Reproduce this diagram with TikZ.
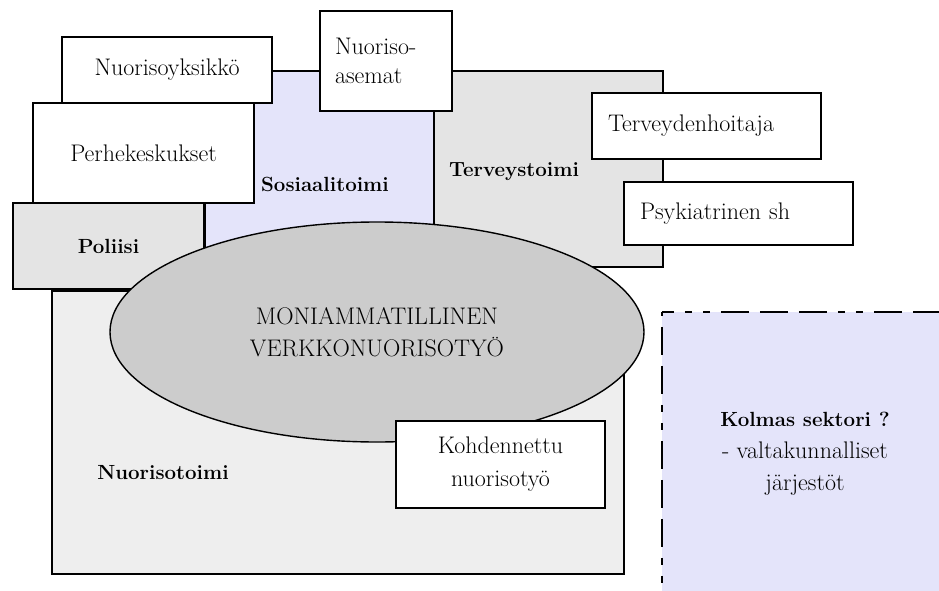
\documentclass[tikz,border=0pt]{standalone}
\usepackage{fontspec}
\usetikzlibrary{shapes.geometric}
\definecolor{lav}{HTML}{E4E4FA}
\definecolor{grayA}{HTML}{E4E4E4}
\definecolor{grayB}{HTML}{EEEEEE}
\definecolor{ellgray}{HTML}{CCCCCC}
\begin{document}
\begin{tikzpicture}[x=1pt,y=-1pt,
  box/.style={draw, line width=1.4pt, inner sep=0pt, font=\fontsize{24}{32}\selectfont, align=center},
  whitebox/.style={box, fill=white},
  lbl/.style={inner sep=0pt, font=\bfseries\fontsize{20.5}{30}\selectfont},
  kdash/.style={line width=2pt, dash pattern=on 7pt off 11pt on 7pt off 11pt on 28pt off 11pt on 28pt off 11pt on 28pt off 11pt}]
\useasboundingbox (0,0) rectangle (939,591);
% large regions
\node[box, fill=lav, minimum width=229pt, minimum height=214pt] (sos) at (319.5,178) {};
\node[box, fill=grayB, minimum width=572pt, minimum height=283pt] (nuor) at (338,432.5) {};
\node[box, fill=grayA, minimum width=229pt, minimum height=196pt] (terv) at (548.5,169) {};
\node[box, fill=grayA, minimum width=191pt, minimum height=86pt, font=\bfseries\fontsize{20.5}{30}\selectfont] (pol) at (108.5,246) {Poliisi};
% labels of regions
\node[lbl] (soslbl) at (325,184) {Sosiaalitoimi};
\node[lbl] (tervlbl) at (514,172) {Terveystoimi};
\node[lbl] (nuorlbl) at (163,473) {Nuorisotoimi};
% white boxes
\node[whitebox, minimum width=221pt, minimum height=100pt] (perhe) at (143.5,153) {Perhekeskukset};
\node[whitebox, minimum width=210pt, minimum height=66pt] (yks) at (167,70) {Nuorisoyksikkö};
\node[whitebox, minimum width=132pt, minimum height=100pt, text width=102pt, inner xsep=15pt, align=left, font=\fontsize{24}{29}\selectfont] (asemat) at (386,61) {Nuoriso-\\asemat};
\node[whitebox, minimum width=229pt, minimum height=66pt, text width=197pt, inner xsep=16pt, align=left] (hoit) at (706.5,126) {Terveydenhoitaja};
\node[whitebox, minimum width=229pt, minimum height=63pt, text width=197pt, inner xsep=16pt, align=left] (psyk) at (738.5,213.5) {Psykiatrinen sh};
% ellipse
\node[box, ellipse, fill=ellgray, minimum width=534pt, minimum height=220pt] (ell) at (377,332) {MONIAMMATILLINEN\\VERKKONUORISOTYÖ};
\node[whitebox, minimum width=209pt, minimum height=87pt, font=\fontsize{24}{33}\selectfont] (kohd) at (500.5,464.5) {Kohdennettu\\nuorisotyö};
% third sector
\node[fill=lav, inner sep=0pt, minimum width=286pt, minimum height=284pt, align=center, font=\fontsize{24}{32}\selectfont] (kolmas) at (805,454) {{\bfseries\fontsize{20.5}{32}\selectfont Kolmas sektori ?}\\- valtakunnalliset\\järjestöt};
\draw[kdash, dash phase=130pt] (kolmas.north west) -- (kolmas.north east);
\draw[kdash, dash phase=60pt] (kolmas.north west) -- (kolmas.south west);
\end{tikzpicture}
\end{document}
